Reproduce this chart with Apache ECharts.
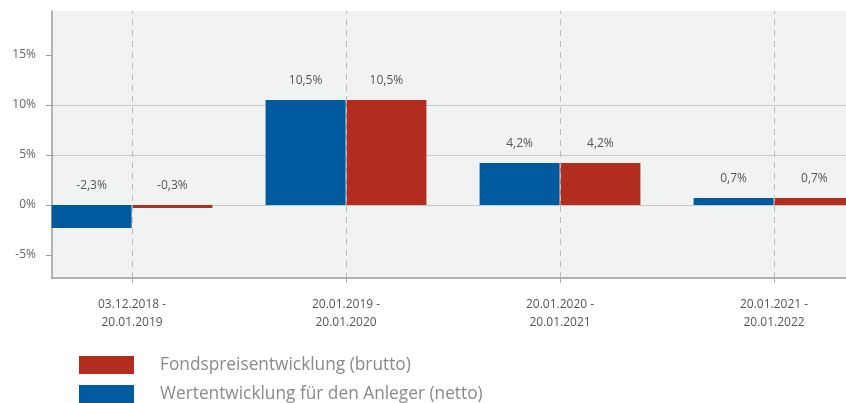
<!DOCTYPE html>
<html><head><meta charset="utf-8">
<script src="https://cdn.jsdelivr.net/npm/echarts@6/dist/echarts.min.js"></script>
<style>html,body{margin:0;padding:0;background:#fff}#c{width:846px;height:403px}</style>
</head><body><div id="c"></div>
<script>
const categories = ['03.12.2018 -\n20.01.2019', '20.01.2019 -\n20.01.2020', '20.01.2020 -\n20.01.2021', '20.01.2021 -\n20.01.2022'];
const netto = [-2.3, 10.5, 4.2, 0.7];
const brutto = [-0.3, 10.5, 4.2, 0.7];
const yTicks = [-5, 0, 5, 10, 15];
const seriesNames = ['Wertentwicklung für den Anleger (netto)', 'Fondspreisentwicklung (brutto)'];

const FONT = '"Open Sans", "Noto Sans", sans-serif';
const fmt = v => String(v).replace('.', ',') + '%';
const idx = categories.map((c, i) => i);

const chart = echarts.init(document.getElementById('c'), null, {renderer: 'canvas'});
const labelCfg = {show: true, position: 'top', distance: 13, color: '#555', fontSize: 12, fontFamily: FONT,
  formatter: p => fmt(p.value[1])};
const legendBase = {
  orient: 'vertical', left: 74, itemWidth: 55, itemHeight: 18, icon: 'rect', selectedMode: false,
  textStyle: {color: '#8a8a8a', fontSize: 17.3, fontFamily: FONT, padding: [0, 0, 0, 21]}
};
chart.setOption({
  animation: false,
  textStyle: {fontFamily: FONT},
  grid: {left: 52, right: 0, top: 11, bottom: 125, show: true, backgroundColor: '#f1f2f2', borderWidth: 0, containLabel: false},
  legend: [
    Object.assign({}, legendBase, {top: 351, data: [seriesNames[1]]}),
    Object.assign({}, legendBase, {top: 380, data: [seriesNames[0]]})
  ],
  xAxis: {
    type: 'value', min: -80 / 214, max: 3 + 72 / 214,
    axisLine: {show: true, onZero: false, lineStyle: {color: '#9a9a9a', width: 1.5}},
    axisTick: {show: true, customValues: idx, length: 5, lineStyle: {color: '#aaa'}},
    axisLabel: {show: true, customValues: idx, margin: 18, color: '#555', fontSize: 12, lineHeight: 18, fontFamily: FONT,
      formatter: v => categories[Math.round(v)]},
    splitLine: {show: false}
  },
  yAxis: {
    type: 'value', min: -7.3, max: 19.4, splitNumber: 5,
    axisLine: {show: true, onZero: false, lineStyle: {color: '#9a9a9a', width: 1.5}},
    axisTick: {show: true, customValues: yTicks, length: 6, lineStyle: {color: '#9a9a9a'}},
    axisLabel: {customValues: yTicks, margin: 16, color: '#666', fontSize: 12, fontFamily: FONT, formatter: v => v + '%'},
    splitLine: {show: true, showMinLine: false, showMaxLine: false, lineStyle: {color: '#c8c8c8', width: 1}}
  },
  series: [
    {
      name: seriesNames[0], type: 'bar', barWidth: 80, barGap: '1%',
      itemStyle: {color: '#005a9e'},
      data: netto.map((v, i) => [i, v]),
      label: labelCfg,
      z: 2
    },
    {
      name: seriesNames[1], type: 'bar', barWidth: 80, barGap: '1%',
      itemStyle: {color: '#b22d20'},
      data: brutto.map((v, i) => [i, v]),
      label: labelCfg,
      z: 2
    },
    {
      name: 'grid-lines', type: 'line', data: [], silent: true, z: 3,
      markLine: {
        silent: true, symbol: 'none', label: {show: false},
        lineStyle: {color: '#bdbdbd', type: [6, 5], width: 1},
        data: idx.map(i => ({xAxis: i}))
      }
    }
  ]
});
</script></body></html>
